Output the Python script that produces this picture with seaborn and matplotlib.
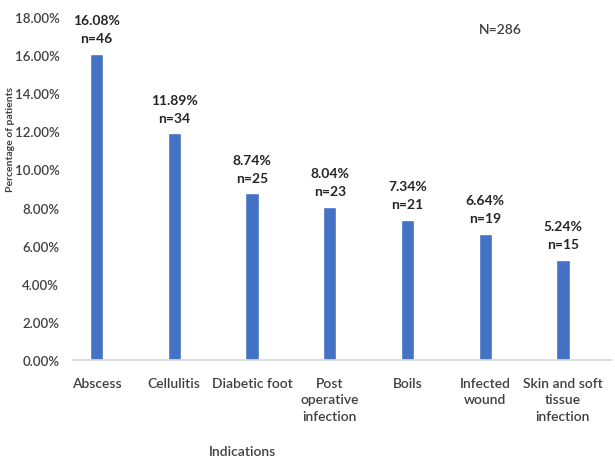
import matplotlib
matplotlib.use("Agg")
import matplotlib.pyplot as plt
import seaborn as sns
import pandas as pd
from matplotlib.ticker import FuncFormatter, MultipleLocator

categories = ["Abscess", "Cellulitis", "Diabetic foot", "Post\noperative\ninfection",
              "Boils", "Infected\nwound", "Skin and soft\ntissue\ninfection"]
percentages = [16.08, 11.89, 8.74, 8.04, 7.34, 6.64, 5.24]
counts = [46, 34, 25, 23, 21, 19, 15]

sns.set_theme(style="white")
plt.rcParams['font.family'] = ['Lato', 'DejaVu Sans']

df = pd.DataFrame({"Indication": categories, "Percent": percentages})

fig = plt.figure(figsize=(6.15, 4.6), dpi=100)
ax = fig.add_axes([0.119, 0.215, 0.876, 0.746])
sns.barplot(data=df, x="Indication", y="Percent", color="#4472C4", saturation=1,
            width=0.17, ax=ax)

ax.set_ylim(0, 18)
ax.set_xlim(-0.3, 6.63)
ax.yaxis.set_major_locator(MultipleLocator(2))
ax.yaxis.set_major_formatter(FuncFormatter(lambda v, p: f"{v:.2f}%"))
ax.tick_params(axis='y', labelsize=9.5, colors='#404040', length=0, pad=10)
ax.tick_params(axis='x', labelsize=10, colors='#404040', length=0, pad=12)
for lbl in ax.get_xticklabels() + ax.get_yticklabels():
    lbl.set_fontweight('semibold')
for lbl in ax.get_xticklabels():
    lbl.set_linespacing(1.45)
ax.set_xlabel("")
ax.set_ylabel("")
for s in ["top", "right", "left"]:
    ax.spines[s].set_visible(False)
ax.spines["bottom"].set_color("#d9d9d9")
ax.spines["bottom"].set_linewidth(1.2)

for i, (p, n) in enumerate(zip(percentages, counts)):
    ax.annotate(f"{p:.2f}%\nn={n}", xy=(i, p), xytext=(0, 7), textcoords="offset points",
                ha="center", va="bottom", fontsize=10, fontweight="bold",
                color="#262626", linespacing=1.6)

fig.text(500/615, 1 - 30/460, "N=286", ha="center", va="center", fontsize=10,
         color="#404040", fontweight="semibold")
fig.text(11/615, 1 - 140/460, "Percentage of patients", rotation=90, ha="center",
         va="center", fontsize=7.5, color="#404040", fontweight="bold")
fig.text(243/615, 1 - 452/460, "Indications", ha="center", va="center", fontsize=10,
         color="#404040", fontweight="semibold")

fig.savefig("out.png", dpi=100)
